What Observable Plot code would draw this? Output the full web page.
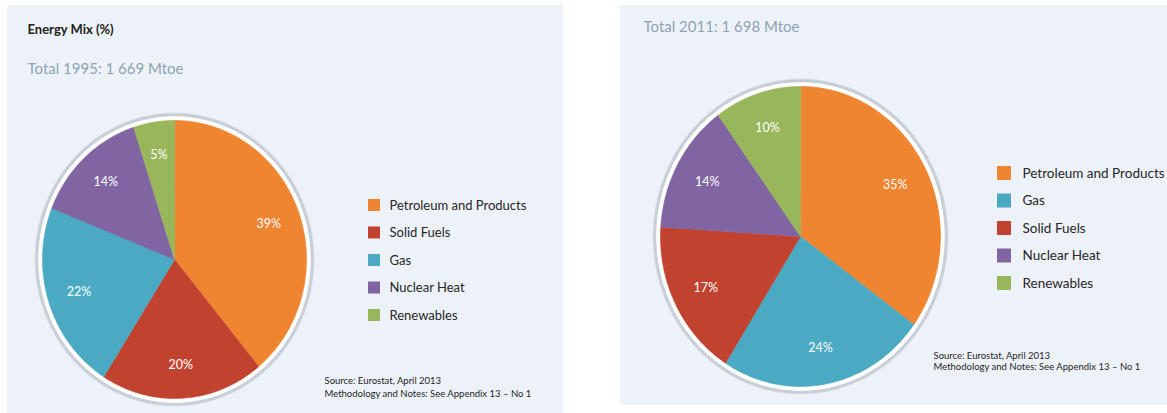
<!DOCTYPE html>
<html><head><meta charset="utf-8">
<script src="https://cdn.jsdelivr.net/npm/d3@7"></script>
<script src="https://cdn.jsdelivr.net/npm/@observablehq/plot@0.6"></script>
<style>
body{margin:0;background:#fff;width:1167px;height:413px;position:relative;overflow:hidden;font-family:Lato,sans-serif}
.panel{position:absolute;background:#edf2f8}
.panel svg{display:block;background:transparent}
</style></head><body>
<div id="p1" class="panel" style="left:7px;top:5px;width:556px;height:408px"></div>
<div id="p2" class="panel" style="left:620px;top:5px;width:547px;height:400px"></div>
<script>
// ---- data ----
const categories = ["Petroleum and Products", "Solid Fuels", "Gas", "Nuclear Heat", "Renewables"];
const colors = ["#ef8431", "#c1432f", "#4aa9c3", "#8065a2", "#98b65a"];
const order1995 = ["Petroleum and Products", "Solid Fuels", "Gas", "Nuclear Heat", "Renewables"];
const share1995 = [39, 20, 22, 14, 5];
const order2011 = ["Petroleum and Products", "Gas", "Solid Fuels", "Nuclear Heat", "Renewables"];
const share2011 = [35, 24, 17, 14, 10];
const title1995 = "Energy Mix (%)";
const subtitle1995 = "Total 1995: 1 669 Mtoe";
const subtitle2011 = "Total 2011: 1 698 Mtoe";
const sourceLines = ["Source: Eurostat, April 2013", "Methodology and Notes: See Appendix 13 \u2013 No 1"];

function pieChart(cfg) {
  const {W, H, cx, cy, rx, ry, order, shares, texts, legend, source} = cfg;
  const data = order.map((k, i) => ({key: k, value: shares[i]}));
  const arcs = d3.pie().sort(null).value(d => d.value)(data);
  const pt = (a, dr) => ({x: cx + (rx + dr) * Math.sin(a), y: cy - (ry + dr) * Math.cos(a)});
  const ptf = (a, f) => ({x: cx + rx * f * Math.sin(a), y: cy - ry * f * Math.cos(a)});
  // slice polygons
  const polys = [];
  for (const a of arcs) {
    polys.push({key: a.data.key, x: cx, y: cy});
    const n = Math.max(2, Math.ceil((a.endAngle - a.startAngle) / (Math.PI / 180)));
    for (let j = 0; j <= n; j++) {
      const ang = a.startAngle + (a.endAngle - a.startAngle) * j / n;
      polys.push({key: a.data.key, ...pt(ang, 0)});
    }
  }
  // outline ring + soft shadow rings
  const ring = (dr, id) => d3.range(0, 361, 2).map(d => ({id, ...pt(d * Math.PI / 180, dr)}));
  const shadows = [];
  [4, 5, 6, 7].forEach((dr, i) => shadows.push(...ring(dr, "s" + i)));
  const white = ring(3.5, "w");
  // value labels
  const labels = arcs.map(a => ({text: a.data.value + "%", ...ptf((a.startAngle + a.endAngle) / 2, cfg.lr)}));
  // legend rows
  const leg = order.map((k, i) => ({key: k, y: legend.y0 + i * legend.dy}));
  const marks = [
    Plot.line(shadows, {x: "x", y: "y", z: "id", stroke: "#56616d", strokeOpacity: 0.16, strokeWidth: 1.6, curve: "linear-closed"}),
    Plot.line(white, {x: "x", y: "y", stroke: "#ffffff", strokeWidth: 1.5, fill: "#ffffff", curve: "linear-closed"}),
    Plot.line(polys, {x: "x", y: "y", z: "key", fill: "key", stroke: "key", strokeWidth: 0.6, curve: "linear-closed"}),
    Plot.text(labels, {x: "x", y: "y", text: "text", fill: "white", fontSize: 12.5, fontFamily: "Lato"}),
    Plot.rect(leg, {x1: legend.sx, x2: legend.sx + legend.s, y1: d => d.y - legend.s / 2, y2: d => d.y + legend.s / 2, fill: "key"}),
    Plot.text(leg, {x: legend.tx, y: "y", text: "key", textAnchor: "start", fill: "#262626", fontSize: legend.fs, fontFamily: "Lato"}),
    Plot.text(source.lines, {x: source.x, y: (d, i) => source.y0 + i * source.dy, text: d => d, textAnchor: "start", fill: "#1e1e1e", fontSize: 9.5, fontFamily: "Lato"})
  ];
  for (const t of texts) {
    marks.push(Plot.text([t.text], {x: t.x, y: t.y, text: d => d, textAnchor: "start", fill: t.color, fontSize: t.fs, fontWeight: t.fw || "normal", fontFamily: "Lato"}));
  }
  return Plot.plot({
    width: W, height: H, margin: 0,
    style: {background: "transparent", overflow: "visible"},
    x: {domain: [0, W], range: [0, W], axis: null},
    y: {domain: [0, H], range: [0, H], axis: null},
    color: {domain: categories, range: colors},
    marks
  });
}

document.getElementById("p1").append(pieChart({
  W: 556, H: 408, cx: 167, cy: 254, rx: 132, ry: 139, lr: 0.76,
  order: order1995, shares: share1995,
  texts: [
    {text: title1995, x: 20, y: 24, fs: 13, color: "#222", fw: "bold"},
    {text: subtitle1995, x: 20, y: 64, fs: 15, color: "#8da3b3"}
  ],
  legend: {sx: 361, s: 12, tx: 382, y0: 200, dy: 27.5, fs: 13},
  source: {lines: sourceLines, x: 317, y0: 375, dy: 13}
}));

document.getElementById("p2").append(pieChart({
  W: 547, H: 400, cx: 180, cy: 231, rx: 140, ry: 150, lr: 0.76,
  order: order2011, shares: share2011,
  texts: [
    {text: subtitle2011, x: 23, y: 22, fs: 15, color: "#8da3b3"}
  ],
  legend: {sx: 377, s: 14, tx: 402, y0: 168, dy: 27.5, fs: 13.5},
  source: {lines: sourceLines, x: 313, y0: 350, dy: 11.5}
}));
</script>
</body></html>
